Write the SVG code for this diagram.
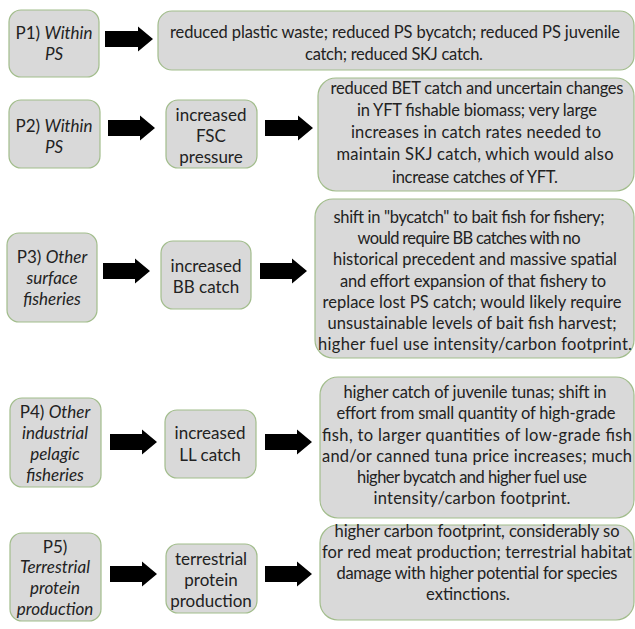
<svg xmlns="http://www.w3.org/2000/svg" width="635" height="629" viewBox="0 0 635 629">
<style>
.bx{fill:#d9d9d9;stroke:#a2bd8c;stroke-width:1.2}
.t{font-family:Lato,"Liberation Sans",sans-serif;font-size:17px;fill:#222;text-anchor:middle}
.r{font-size:16.5px}
.i{font-style:italic}
.ar{fill:#000}
</style>
<rect width="635" height="629" fill="#fff"/>
<g id="p1"><rect class="bx" x="9" y="10" width="90" height="67" rx="12"/>
<text class="t" x="54" y="39">P1) <tspan class="i">Within</tspan></text><text class="t i" x="54" y="60">PS</text></g>
<g id="r1"><rect class="bx" x="158" y="11" width="476" height="59" rx="14"/>
<text class="t r" x="395" y="38" textLength="450">reduced plastic waste; reduced PS bycatch; reduced PS juvenile</text>
<text class="t r" x="394" y="60" textLength="178">catch; reduced SKJ catch.</text></g>

<g id="p2"><rect class="bx" x="9" y="100" width="91" height="68" rx="12"/>
<text class="t" x="54" y="132">P2) <tspan class="i">Within</tspan></text><text class="t i" x="54" y="153">PS</text></g>
<g id="m2"><rect class="bx" x="166" y="100" width="91" height="68" rx="12"/>
<text class="t" x="211" y="121">increased</text><text class="t" x="211" y="142">FSC</text><text class="t" x="211" y="163">pressure</text></g>
<g id="r2"><rect class="bx" x="318" y="78" width="316" height="113" rx="18"/>
<text class="t r" x="477" y="94" textLength="293">reduced BET catch and uncertain changes</text>
<text class="t r" x="477" y="116" textLength="240">in YFT fishable biomass; very large</text>
<text class="t r" x="476" y="138" textLength="250">increases in catch rates needed to</text>
<text class="t r" x="475" y="160" textLength="277">maintain SKJ catch, which would also</text>
<text class="t r" x="475" y="183" textLength="166">increase catches of YFT.</text></g>

<g id="p3"><rect class="bx" x="7" y="233" width="90" height="89" rx="12"/>
<text class="t" x="52" y="263">P3) <tspan class="i">Other</tspan></text><text class="t i" x="52" y="284">surface</text><text class="t i" x="52" y="305">fisheries</text></g>
<g id="m3"><rect class="bx" x="161" y="241" width="90" height="68" rx="12"/>
<text class="t" x="206" y="272">increased</text><text class="t" x="206" y="293">BB catch</text></g>
<g id="r3"><rect class="bx" x="315" y="199" width="319" height="159" rx="18"/>
<text class="t r" x="469" y="223" textLength="271">shift in "bycatch" to bait fish for fishery;</text>
<text class="t r" x="469" y="244" textLength="223">would require BB catches with no</text>
<text class="t r" x="475" y="265" textLength="284">historical precedent and massive spatial</text>
<text class="t r" x="473" y="287" textLength="266">and effort expansion of that fishery to</text>
<text class="t r" x="472" y="308" textLength="299">replace lost PS catch; would likely require</text>
<text class="t r" x="472" y="329" textLength="289">unsustainable levels of bait fish harvest;</text>
<text class="t r" x="475" y="350" textLength="314">higher fuel use intensity/carbon footprint.</text></g>

<g id="p4"><rect class="bx" x="10" y="398" width="91" height="89" rx="12"/>
<text class="t" x="55" y="418">P4) <tspan class="i">Other</tspan></text><text class="t i" x="55" y="439">industrial</text><text class="t i" x="55" y="460">pelagic</text><text class="t i" x="55" y="481">fisheries</text></g>
<g id="m4"><rect class="bx" x="165" y="410" width="91" height="68" rx="12"/>
<text class="t" x="210" y="439">increased</text><text class="t" x="210" y="461">LL catch</text></g>
<g id="r4"><rect class="bx" x="320" y="377" width="314" height="141" rx="18"/>
<text class="t r" x="475" y="398" textLength="263">higher catch of juvenile tunas; shift in</text>
<text class="t r" x="476" y="419" textLength="279">effort from small quantity of high-grade</text>
<text class="t r" x="477" y="441" textLength="310">fish, to larger quantities of low-grade fish</text>
<text class="t r" x="477" y="462" textLength="310">and/or canned tuna price increases; much</text>
<text class="t r" x="472" y="483" textLength="230">higher bycatch and higher fuel use</text>
<text class="t r" x="472" y="504" textLength="197">intensity/carbon footprint.</text></g>

<g id="p5"><rect class="bx" x="10" y="533" width="91" height="88" rx="12"/>
<text class="t" x="55" y="553">P5)</text><text class="t i" x="55" y="573">Terrestrial</text><text class="t i" x="55" y="594">protein</text><text class="t i" x="55" y="615">production</text></g>
<g id="m5"><rect class="bx" x="166" y="544" width="91" height="69" rx="12"/>
<text class="t" x="211" y="565">terrestrial</text><text class="t" x="211" y="586">protein</text><text class="t" x="211" y="607">production</text></g>
<g id="r5"><rect class="bx" x="320" y="525" width="314" height="95" rx="18"/>
<text class="t r" x="477" y="537" textLength="285">higher carbon footprint, considerably so</text>
<text class="t r" x="477" y="558" textLength="310">for red meat production; terrestrial habitat</text>
<text class="t r" x="477" y="579" textLength="281">damage with higher potential for species</text>
<text class="t r" x="468" y="600">extinctions.</text></g>

<g id="connectors" class="ar">
<path d="M105,31H138V26.5L153,39L138,51.5V47H105Z"/>
<path d="M108,120H140V115.5L155,128L140,140.5V136H108Z"/>
<path d="M265,120H298V115.5L313,128L298,140.5V136H265Z"/>
<path d="M103,263H135V258.5L150,271L135,283.5V279H103Z"/>
<path d="M260,263H292V258.5L307,271L292,283.5V279H260Z"/>
<path d="M110,434H142V429.5L157,442L142,454.5V450H110Z"/>
<path d="M265,434H297V429.5L312,442L297,454.5V450H265Z"/>
<path d="M110,566H142V561.5L157,574L142,586.5V582H110Z"/>
<path d="M265,566H297V561.5L312,574L297,586.5V582H265Z"/>
</g>
</svg>
